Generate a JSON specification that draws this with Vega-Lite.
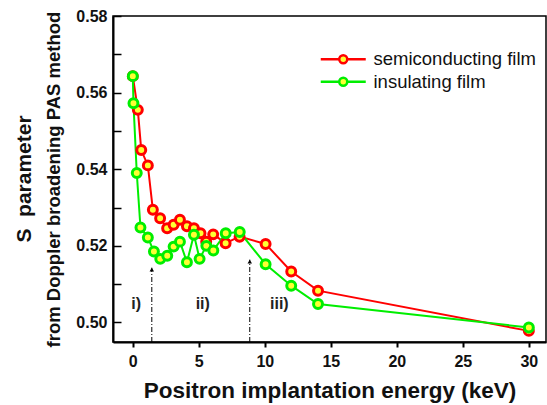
{
  "$schema": "https://vega.github.io/schema/vega-lite/v6.json",
  "width": 433,
  "height": 326,
  "autosize": {"type": "none"},
  "padding": {"left": 113, "top": 16, "right": 1, "bottom": 63},
  "background": "white",
  "title": {"text": "S\u00a0\u00a0parameter", "orient": "left", "fontSize": 21, "fontWeight": "bold", "font": "Liberation Sans", "color": "#111", "offset": 10},
  "config": {
    "font": "Liberation Sans",
    "view": {"stroke": "black", "strokeWidth": 1.5},
    "axis": {"labelFont": "Liberation Sans", "labelFontWeight": "bold", "labelFontSize": 16, "labelColor": "#111", "titleFont": "Liberation Sans", "titleFontWeight": "bold", "titleColor": "#111", "domainColor": "black", "domainWidth": 2, "tickColor": "black", "tickWidth": 2, "grid": false, "labelOverlap": false}
  },
  "resolve": {"axis": {"y": "independent"}},
  "datasets": {
    "series": [
      {"E": 0, "S": 0.5643, "film": "semiconducting film"},
      {"E": 0.38, "S": 0.5555, "film": "semiconducting film"},
      {"E": 0.64, "S": 0.545, "film": "semiconducting film"},
      {"E": 1.14, "S": 0.541, "film": "semiconducting film"},
      {"E": 1.52, "S": 0.5294, "film": "semiconducting film"},
      {"E": 2.07, "S": 0.5272, "film": "semiconducting film"},
      {"E": 2.6, "S": 0.5246, "film": "semiconducting film"},
      {"E": 3.09, "S": 0.5255, "film": "semiconducting film"},
      {"E": 3.57, "S": 0.5268, "film": "semiconducting film"},
      {"E": 4.1, "S": 0.5251, "film": "semiconducting film"},
      {"E": 4.63, "S": 0.5246, "film": "semiconducting film"},
      {"E": 5.13, "S": 0.5233, "film": "semiconducting film"},
      {"E": 5.56, "S": 0.5211, "film": "semiconducting film"},
      {"E": 6.09, "S": 0.523, "film": "semiconducting film"},
      {"E": 7.03, "S": 0.5207, "film": "semiconducting film"},
      {"E": 8.09, "S": 0.5224, "film": "semiconducting film"},
      {"E": 10.06, "S": 0.5205, "film": "semiconducting film"},
      {"E": 12.0, "S": 0.5133, "film": "semiconducting film"},
      {"E": 14.03, "S": 0.5083, "film": "semiconducting film"},
      {"E": 30, "S": 0.4978, "film": "semiconducting film"},
      {"E": 0, "S": 0.5643, "film": "insulating film"},
      {"E": 0.05, "S": 0.5572, "film": "insulating film"},
      {"E": 0.3, "S": 0.539, "film": "insulating film"},
      {"E": 0.58, "S": 0.5248, "film": "insulating film"},
      {"E": 1.14, "S": 0.5222, "film": "insulating film"},
      {"E": 1.6, "S": 0.5185, "film": "insulating film"},
      {"E": 2.08, "S": 0.5166, "film": "insulating film"},
      {"E": 2.61, "S": 0.5174, "film": "insulating film"},
      {"E": 3.09, "S": 0.5198, "film": "insulating film"},
      {"E": 3.57, "S": 0.5211, "film": "insulating film"},
      {"E": 4.1, "S": 0.5157, "film": "insulating film"},
      {"E": 4.63, "S": 0.5229, "film": "insulating film"},
      {"E": 5.06, "S": 0.5166, "film": "insulating film"},
      {"E": 5.57, "S": 0.52, "film": "insulating film"},
      {"E": 6.1, "S": 0.5188, "film": "insulating film"},
      {"E": 7.04, "S": 0.5233, "film": "insulating film"},
      {"E": 8.1, "S": 0.5236, "film": "insulating film"},
      {"E": 10.06, "S": 0.5152, "film": "insulating film"},
      {"E": 12.0, "S": 0.5096, "film": "insulating film"},
      {"E": 14.03, "S": 0.5048, "film": "insulating film"},
      {"E": 30, "S": 0.4987, "film": "insulating film"}
    ],
    "arrows": [
      {"E": 1.44, "S0": 0.4949, "S1": 0.5143},
      {"E": 8.86, "S0": 0.4949, "S1": 0.5164}
    ],
    "labels": [
      {"E": 0.26, "S": 0.5049, "label": "i)"},
      {"E": 5.3, "S": 0.5049, "label": "ii)"},
      {"E": 11.1, "S": 0.5049, "label": "iii)"}
    ]
  },
  "layer": [
    {
      "data": {"name": "arrows"},
      "mark": {"type": "rule", "color": "black", "strokeWidth": 1, "strokeDash": [5, 2, 1, 2]},
      "encoding": {
        "x": {"field": "E", "type": "quantitative", "scale": {"domain": [-1.5, 31.3], "nice": false, "zero": false},
          "axis": {"title": "Positron implantation energy (keV)", "titleFontSize": 22.5, "titlePadding": 10, "values": [0, 2.5, 5, 7.5, 10, 12.5, 15, 17.5, 20, 22.5, 25, 27.5, 30], "format": "d", "labelExpr": "datum.value % 5 === 0 ? datum.label : ''", "tickSize": 5, "labelPadding": 6}},
        "y": {"field": "S0", "type": "quantitative", "scale": {"domain": [0.4949, 0.58], "nice": false, "zero": false},
          "axis": {"orient": "left", "title": "from Doppler broadening PAS method", "titleFontSize": 18.5, "titlePadding": 12, "values": [0.5, 0.52, 0.54, 0.56, 0.58], "format": ".2f", "ticks": false, "labelPadding": 6}},
        "y2": {"field": "S1"}
      }
    },
    {
      "data": {"name": "arrows"},
      "mark": {"type": "point", "shape": "triangle-up", "filled": true, "color": "black", "size": 20, "opacity": 1, "yOffset": 2},
      "encoding": {
        "x": {"field": "E", "type": "quantitative"},
        "y": {"field": "S1", "type": "quantitative",
          "axis": {"orient": "left", "offset": -8, "domain": false, "labels": false, "title": null, "tickSize": 8, "tickWidth": 1.5, "values": [0.5, 0.51, 0.52, 0.53, 0.54, 0.55, 0.56, 0.57, 0.58]}}
      }
    },
    {
      "data": {"name": "labels"},
      "mark": {"type": "text", "fontSize": 16, "fontWeight": "bold", "color": "#222", "font": "Liberation Sans"},
      "encoding": {
        "x": {"field": "E", "type": "quantitative"},
        "y": {"field": "S", "type": "quantitative", "axis": null},
        "text": {"field": "label"}
      }
    },
    {
      "data": {"name": "series"},
      "mark": {"type": "line", "strokeWidth": 2},
      "encoding": {
        "x": {"field": "E", "type": "quantitative"},
        "y": {"field": "S", "type": "quantitative", "axis": null},
        "stroke": {"field": "film", "type": "nominal",
          "scale": {"domain": ["semiconducting film", "insulating film"], "range": ["#ff0000", "#00ee00"]},
          "legend": {"title": null, "orient": "none", "legendX": 221, "legendY": 34, "labelFontSize": 18.5, "labelFont": "Liberation Sans", "labelColor": "#111", "labelLimit": 400, "symbolType": "M-4.5,0H-0.8 M0.8,0H4.5 M-0.8,0A0.8,0.8 0 1,1 0.8,0A0.8,0.8 0 1,1 -0.8,0Z", "symbolSize": 100, "symbolStrokeWidth": 2.5, "symbolFillColor": "#ffff33", "labelOffset": 21, "rowPadding": 3.5}},
        "detail": {"field": "film"},
        "order": {"field": "E", "type": "quantitative"}
      }
    },
    {
      "data": {"name": "series"},
      "mark": {"type": "point", "filled": true, "fill": "#ffff33", "size": 80, "strokeWidth": 3, "opacity": 1},
      "encoding": {
        "x": {"field": "E", "type": "quantitative"},
        "y": {"field": "S", "type": "quantitative", "axis": null},
        "stroke": {"field": "film", "type": "nominal"}
      }
    }
  ]
}
